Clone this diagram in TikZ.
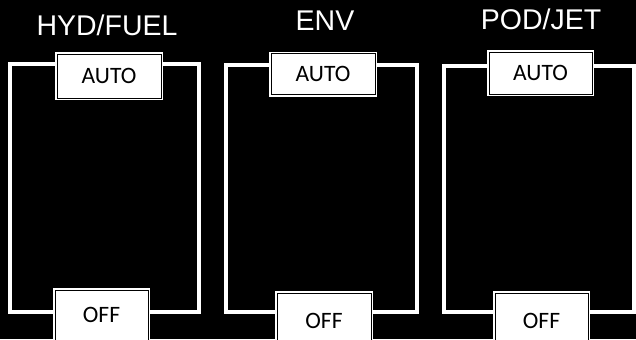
\documentclass[tikz,border=0pt]{standalone}
\usepackage{fontspec}
\setmainfont{Liberation Sans}
\newfontfamily\boxfont{Carlito}
\pgfdeclarelayer{wires}
\pgfsetlayers{wires,main}
\begin{document}
\begin{tikzpicture}[x=1bp,y=-1bp,
  wire/.style={draw=white,line width=4bp},
  title/.style={text=white,font=\fontsize{28.5bp}{30bp}\selectfont,inner sep=0pt},
  btn/.style={fill=white,draw=black,line width=1bp,
    preaction={draw=white,line width=4bp},
    font=\boxfont\fontsize{23.5bp}{25bp}\selectfont,text=black,
    inner sep=0pt,text height=15bp,text depth=0pt}]
\begin{pgfonlayer}{wires}
\fill[black] (0,0) rectangle (636,339);
\end{pgfonlayer}
\useasboundingbox (0,0) rectangle (636,339);
% titles
\node[title] (t1) at (107,25) {HYD/FUEL};
\node[title] (t2) at (325,21) {ENV};
\node[title] (t3) at (541,19) {POD/JET};
% corner coordinates
\coordinate (tl1) at (10,64);  \coordinate (tr1) at (199,64);
\coordinate (bl1) at (10,312); \coordinate (br1) at (199,312);
\coordinate (tl2) at (226,65); \coordinate (tr2) at (417,65);
\coordinate (bl2) at (226,312);\coordinate (br2) at (417,312);
\coordinate (tl3) at (444,66); \coordinate (tr3) at (634,66);
\coordinate (bl3) at (444,312);\coordinate (br3) at (634,312);
% buttons
\node[btn,minimum width=104bp,minimum height=44bp] (a1) at (109,76) {AUTO};
\node[btn,minimum width=93bp,minimum height=50bp] (o1) at (101.5,315) {OFF};
\node[btn,minimum width=104bp,minimum height=41bp] (a2) at (323,74) {AUTO};
\node[btn,minimum width=94bp,minimum height=56bp] (o2) at (324,321) {OFF};
\node[btn,minimum width=103bp,minimum height=42bp] (a3) at (540.5,73) {AUTO};
\node[btn,minimum width=93bp,minimum height=56bp] (o3) at (541.5,321) {OFF};
% wires, behind the buttons
\begin{pgfonlayer}{wires}
\draw[wire] (a1.west |- tl1) -- (tl1) -- (bl1) -- (o1.west |- bl1);
\draw[wire] (a1.east |- tr1) -- (tr1) -- (br1) -- (o1.east |- br1);
\draw[wire] (a2.west |- tl2) -- (tl2) -- (bl2) -- (o2.west |- bl2);
\draw[wire] (a2.east |- tr2) -- (tr2) -- (br2) -- (o2.east |- br2);
\draw[wire] (a3.west |- tl3) -- (tl3) -- (bl3) -- (o3.west |- bl3);
\draw[wire] (a3.east |- tr3) -- (tr3) -- (br3) -- (o3.east |- br3);
\end{pgfonlayer}
\end{tikzpicture}
\end{document}
